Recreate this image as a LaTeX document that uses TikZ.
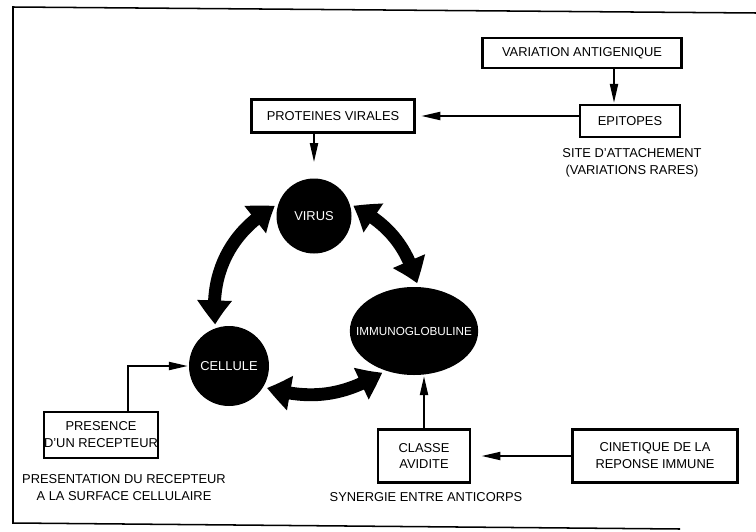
\documentclass[tikz,border=0pt]{standalone}
\usepackage{fontspec}
\setmainfont{Liberation Sans}
\usetikzlibrary{shapes.geometric,arrows.meta,bending}
\tikzset{
  box/.style={
    draw,
    line width=2pt,
    align=center,
    inner sep=0pt
  },
  blob/.style={
    fill=black,
    text=white,
    inner sep=0pt
  },
  note/.style={
    align=center,
    inner sep=0pt
  },
  link/.style={
    line width=1.2pt,
    -{Triangle[length=16pt,width=7pt]},
    shorten >=1pt
  },
  bigarrow/.style={
    line width=11pt,
    {Triangle[bend,length=21pt,width=28pt]}-{Triangle[bend,length=21pt,width=28pt]},
    shorten >=3pt,
    shorten <=3pt
  },
  every picture/.style={
    font=\fontsize{11}{14.5}\selectfont
  }
}

\begin{document}
\begin{tikzpicture}[x=0.03cm,y=-0.03cm]
  \useasboundingbox (0,0) rectangle (756,531);
  \draw[line width=1.3pt] (756,13) -- (13,7) -- (13,523) -- (680,529);

  % boxes
  \node[box,minimum width=5.97cm,minimum height=0.9cm] (variation) at (582,53) {VARIATION ANTIGENIQUE};
  \node[box,minimum width=3cm,minimum height=0.96cm] (epitopes) at (630,121) {EPITOPES};
  \node[box,minimum width=4.89cm,minimum height=0.99cm] (proteines) at (333,116) {PROTEINES VIRALES};
  \node[box,minimum width=3.36cm,minimum height=1.38cm] (presence) at (101,435) {PRESENCE\\D'UN RECEPTEUR};
  \node[box,minimum width=2.76cm,minimum height=1.59cm] (classe) at (424,456) {CLASSE\\AVIDITE};
  \node[box,minimum width=4.95cm,minimum height=1.59cm] (cinetique) at (655,456) {CINETIQUE DE LA\\REPONSE IMMUNE};

  % the three partners
  \node[blob,circle,minimum size=2.25cm] (virus) at (314,216) {VIRUS};
  \node[blob,circle,minimum size=2.4cm] (cellule) at (229,366) {CELLULE};
  \node[blob,ellipse,minimum width=3.85cm,minimum height=2.64cm,
    label={[white,font=\fontsize{10}{12}\selectfont]center:IMMUNOGLOBULINE}] (immuno) at (414,331) {};

  \node[note] (site) at (632,163) {SITE D'ATTACHEMENT\\(VARIATIONS RARES)};
  \node[note] (presentation) at (124,488) {PRESENTATION DU RECEPTEUR\\A LA SURFACE CELLULAIRE};
  \node[note] (synergie) at (426,497) {SYNERGIE ENTRE ANTICORPS};

  \draw[link] ([xshift=-0.48cm]epitopes.north |- variation.south) -- ([xshift=-0.48cm]epitopes.north);
  \draw[link,shorten >=5pt] (epitopes.west |- proteines.east) -- (proteines.east);
  \draw[link,shorten >=14pt] (proteines.south -| virus.north) -- (virus.north);
  \draw[link] ([xshift=0.81cm]presence.north) |- (cellule.west);
  \draw[link] (classe.north) -- (classe.north |- immuno.south);
  \draw[link,shorten >=9pt] (cinetique.west) -- (classe.east);

  \draw[bigarrow] (virus.162) to[bend right=35] (cellule.109);
  \draw[bigarrow] (virus.18) to[bend left=25] (immuno.85);
  \draw[bigarrow] (cellule.-31) to[bend right=25] (immuno.234);
\end{tikzpicture}
\end{document}
